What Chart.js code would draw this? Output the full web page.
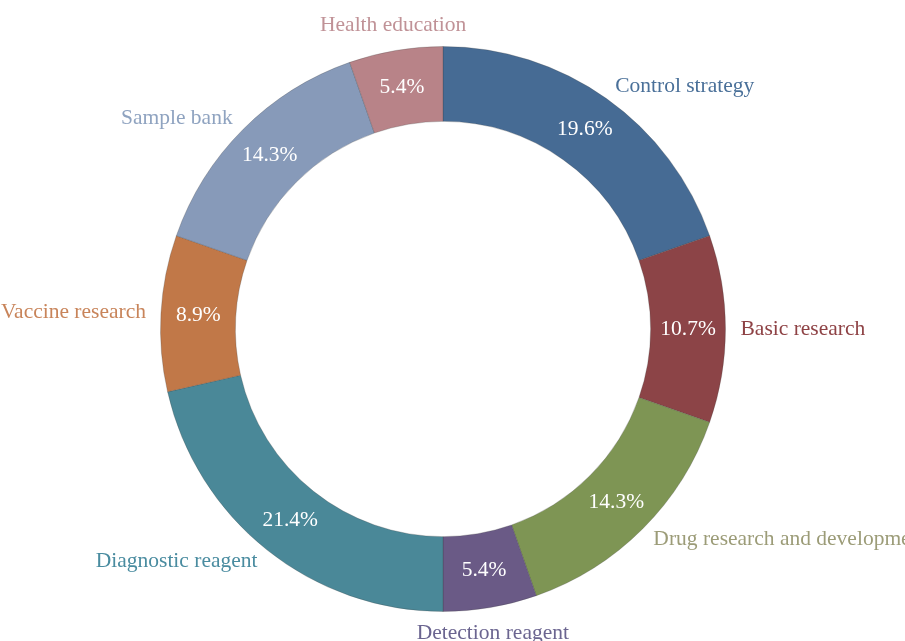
<!DOCTYPE html>
<html>
<head>
<meta charset="utf-8">
<script src="https://cdn.jsdelivr.net/npm/chart.js@4"></script>
<style>
  html, body { margin: 0; padding: 0; background: #fff; }
  #wrap { width: 905px; height: 641px; }
</style>
</head>
<body>
<div id="wrap"><canvas id="myChart"></canvas></div>
<script>
const categories = ['Control strategy', 'Basic research', 'Drug research and development', 'Detection reagent', 'Diagnostic reagent', 'Vaccine research', 'Sample bank', 'Health education'];
const counts = [11, 6, 8, 3, 12, 5, 8, 3];
const sliceColors = ['#466b94', '#8c4447', '#7e9554', '#6a5a86', '#4a8898', '#c17848', '#879ab9', '#b88388'];
const labelColors = ['#4a7099', '#8e4245', '#9c9c78', '#6b6590', '#4a8ca0', '#c8845a', '#8fa3c0', '#c09297'];

const FONT = '"Liberation Serif", "Times New Roman", serif';

// draws the percentages inside and the category names outside the ring
const ringLabels = {
  id: 'ringLabels',
  afterDatasetsDraw(chart) {
    const ctx = chart.ctx;
    const meta = chart.getDatasetMeta(0);
    const total = counts.reduce((a, b) => a + b, 0);
    ctx.save();
    ctx.font = '21.5px ' + FONT;
    meta.data.forEach((arc, i) => {
      const p = arc.getProps(['x', 'y', 'startAngle', 'endAngle', 'innerRadius', 'outerRadius'], true);
      const mid = (p.startAngle + p.endAngle) / 2;
      const cos = Math.cos(mid), sin = Math.sin(mid);
      // percentage
      const rm = (p.innerRadius + p.outerRadius) / 2;
      ctx.fillStyle = '#ffffff';
      ctx.textAlign = 'center';
      ctx.textBaseline = 'middle';
      ctx.fillText((counts[i] / total * 100).toFixed(1) + '%', p.x + cos * rm, p.y + sin * rm);
      // outside name
      const ro = p.outerRadius + 15;
      const lx = p.x + cos * ro, ly = p.y + sin * ro;
      ctx.fillStyle = labelColors[i];
      if (cos > 0.3) { ctx.textAlign = 'left'; ctx.textBaseline = 'middle'; }
      else if (cos < -0.3) { ctx.textAlign = 'right'; ctx.textBaseline = 'middle'; }
      else { ctx.textAlign = 'center'; ctx.textBaseline = sin < 0 ? 'bottom' : 'top'; }
      ctx.fillText(categories[i], lx, ly);
    });
    ctx.restore();
  }
};

const myChart = new Chart(document.getElementById('myChart'), {
  type: 'doughnut',
  data: {
    labels: categories,
    datasets: [{
      data: counts,
      backgroundColor: sliceColors,
      borderColor: 'rgba(60,60,60,0.25)',
      borderWidth: 1,
      hoverOffset: 0
    }]
  },
  options: {
    responsive: true,
    maintainAspectRatio: false,
    animation: false,
    cutout: '73.5%',
    layout: { padding: { top: 46, bottom: 29, left: 160, right: 179 } },
    plugins: {
      legend: { display: false },
      tooltip: { enabled: false }
    }
  },
  plugins: [ringLabels]
});
</script>
</body>
</html>
